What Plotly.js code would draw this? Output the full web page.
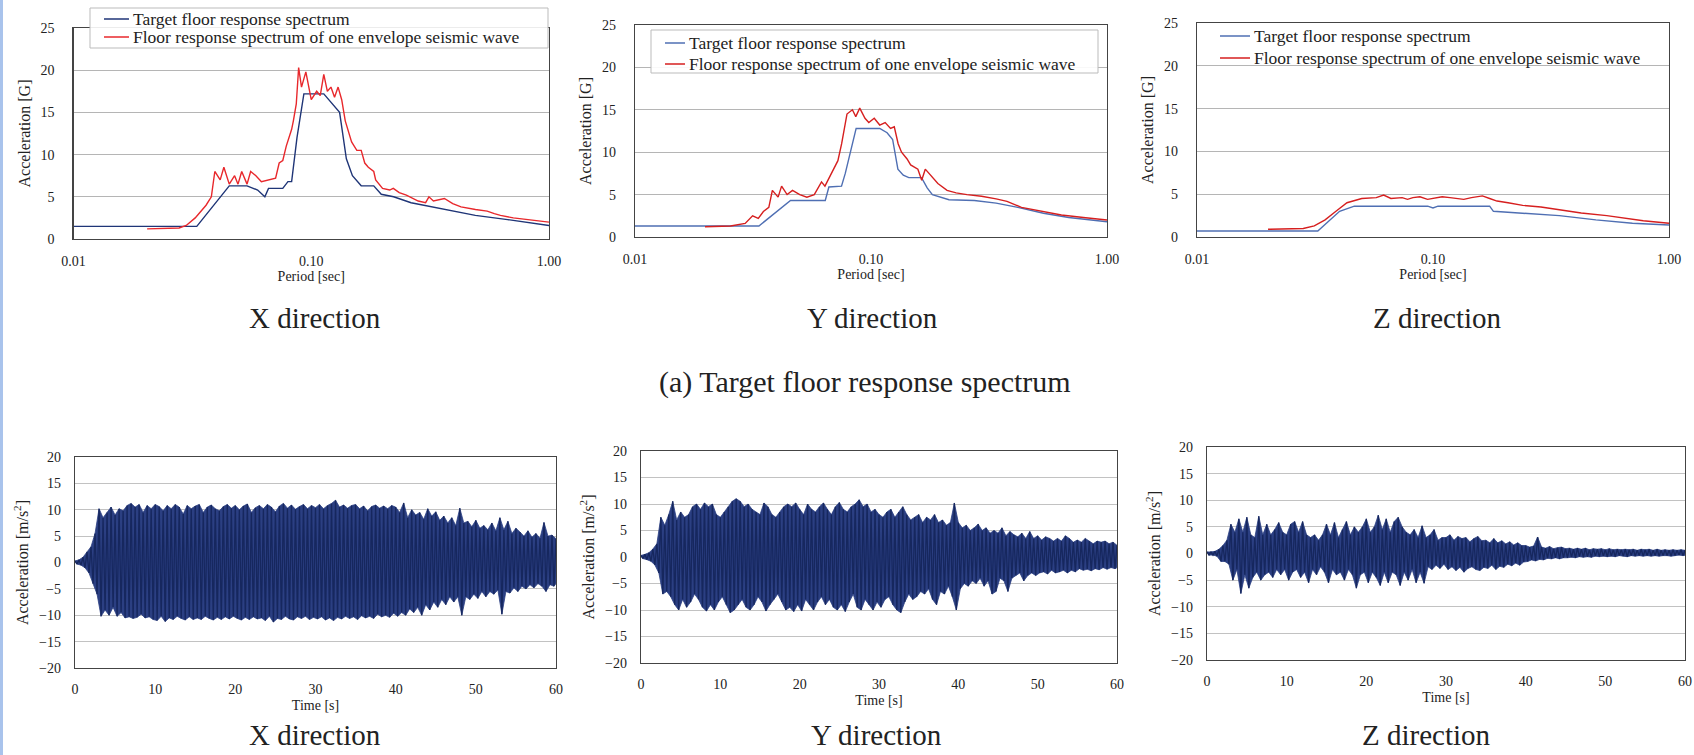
<!DOCTYPE html>
<html>
<head>
<meta charset="utf-8">
<script src="https://cdn.plot.ly/plotly-3.0.1.min.js"></script>
<style>html,body{margin:0;padding:0;background:#fff;}#chart{width:1694px;height:755px;}</style>
</head>
<body>
<div id="chart"></div>
<script>
// ---------------- DATA ----------------
// Floor response spectra: period [sec] and acceleration [G]
const xTargetPeriod = [0.01,0.033,0.0452,0.0537,0.0595,0.0638,0.0661,0.0759,0.0798,0.0827,0.0871,0.0931,0.1129,0.127,0.1316,0.1405,0.149,0.1622,0.1832,0.197,0.222,0.263,0.372,0.49,0.67,1.0];
const xTargetAcc    = [1.5,1.5,6.3,6.3,5.8,5.0,6.0,6.0,6.8,6.8,12.0,17.2,17.2,15.5,15.0,9.5,7.5,6.3,6.3,5.3,5.0,4.3,3.5,2.8,2.3,1.6];
const xWavePeriod = [0.0204,0.0278,0.0298,0.0325,0.0361,0.038,0.0393,0.0414,0.0429,0.0452,0.0476,0.0492,0.051,0.0537,0.0556,0.0585,0.0617,0.0661,0.0708,0.0733,0.0759,0.0785,0.0827,0.0841,0.0865,0.0885,0.091,0.0949,0.1,0.1054,0.1091,0.1129,0.1169,0.121,0.1253,0.1297,0.1343,0.139,0.1439,0.1478,0.1555,0.1622,0.1679,0.1738,0.1832,0.1866,0.1995,0.2138,0.2213,0.2345,0.2512,0.2818,0.3027,0.3126,0.3265,0.3631,0.3936,0.4265,0.4906,0.5495,0.5888,0.625,0.7079,0.8128,0.9016,1.0];
const xWaveAcc    = [1.2,1.3,1.6,2.5,4.0,5.0,8.0,7.0,8.5,6.5,7.5,6.5,8.0,6.5,8.0,7.5,6.8,7.0,7.2,9.0,9.3,11.0,13.0,14.0,16.0,20.3,18.0,19.8,16.5,17.5,17.0,19.5,17.5,18.0,16.8,18.0,16.5,14.0,12.5,11.5,10.5,10.5,9.0,8.5,8.0,7.0,6.0,5.8,6.0,5.5,5.2,4.5,4.3,5.0,4.5,4.8,4.2,3.8,3.5,3.3,3.0,2.8,2.5,2.3,2.2,2.0];

const yTargetPeriod = [0.01,0.0335,0.0456,0.064,0.0663,0.075,0.0778,0.082,0.0865,0.1089,0.117,0.1235,0.130,0.137,0.1446,0.1637,0.173,0.182,0.199,0.214,0.274,0.339,0.419,0.538,0.688,1.0];
const yTargetAcc    = [1.3,1.3,4.3,4.3,5.9,6.0,7.5,10.0,12.8,12.8,12.3,11.5,8.0,7.3,7.0,7.0,5.8,5.0,4.7,4.4,4.3,4.0,3.5,2.8,2.3,1.8];
const yWavePeriod = [0.0198,0.0254,0.0293,0.0315,0.0333,0.035,0.0369,0.0382,0.0404,0.0418,0.0441,0.0465,0.0499,0.0535,0.0575,0.0617,0.0638,0.0674,0.0724,0.0751,0.0791,0.0834,0.0862,0.0896,0.0943,0.0979,0.1032,0.1089,0.1148,0.121,0.1255,0.1303,0.1347,0.1422,0.1472,0.158,0.164,0.1698,0.179,0.192,0.21,0.2295,0.255,0.294,0.339,0.377,0.434,0.538,0.641,0.794,1.0];
const yWaveAcc    = [1.2,1.3,1.6,2.5,2.2,3.0,3.5,5.5,4.7,6.0,5.0,5.5,5.0,4.7,5.0,6.5,6.0,7.3,9.0,11.0,14.5,15.0,14.2,15.2,14.0,13.5,14.0,13.2,13.5,12.8,13.0,11.0,10.0,9.2,8.5,8.0,6.7,8.0,7.3,6.3,5.5,5.2,5.0,4.8,4.5,4.2,3.5,3.0,2.6,2.3,2.0];

const zTargetPeriod = [0.01,0.0325,0.0402,0.0464,0.095,0.1,0.105,0.1738,0.1803,0.240,0.343,0.490,0.700,1.0];
const zTargetAcc    = [0.7,0.7,3.0,3.6,3.6,3.4,3.6,3.6,3.0,2.8,2.5,2.0,1.6,1.4];
const zWavePeriod = [0.02,0.0282,0.0314,0.0349,0.0388,0.0432,0.0499,0.0575,0.0618,0.0663,0.074,0.078,0.0822,0.088,0.0948,0.1,0.1094,0.118,0.126,0.135,0.1455,0.153,0.162,0.1738,0.1868,0.208,0.240,0.2866,0.343,0.4246,0.545,0.652,0.778,1.0];
const zWaveAcc    = [0.9,1.0,1.3,2.0,3.0,4.0,4.5,4.6,4.9,4.5,4.6,4.4,4.6,4.7,4.4,4.5,4.7,4.6,4.5,4.4,4.6,4.7,4.8,4.5,4.2,4.0,3.7,3.5,3.2,2.8,2.5,2.2,1.9,1.6];

// Envelope seismic waves: peak values per 0.5 s window [m/s^2], t = 0 ... 60 s
const timeStep = 0.5;
const xWaveUpper = [0.3,0.5,1.0,2.0,3.0,5.5,10.2,8.5,9.5,10.5,
 9.0,10.2,9.8,10.8,11.2,10.5,11.0,9.5,10.8,10.2,
 11.0,10.6,9.8,10.8,10.2,11.0,10.5,9.2,10.8,10.2,
 10.7,11.0,9.5,10.5,10.9,10.2,9.8,10.6,11.0,10.3,
 10.8,10.0,10.7,11.1,9.5,10.4,10.8,10.2,11.0,10.5,
 9.6,10.7,11.2,10.3,10.9,10.1,10.6,11.0,10.2,10.8,
 10.4,11.0,10.2,10.8,11.2,11.8,10.5,10.9,10.3,10.8,
 11.0,10.2,10.7,9.8,10.6,10.9,10.3,10.7,10.2,10.8,
 10.5,9.5,11.3,8.5,10.0,9.0,9.5,8.2,10.2,8.8,
 9.6,8.0,8.8,7.5,8.5,7.0,10.3,7.5,7.8,6.8,
 8.0,6.5,7.0,6.2,7.5,6.0,8.5,6.2,7.8,5.5,
 6.5,5.8,5.0,6.0,4.8,5.5,4.6,7.6,5.0,5.2,
 4.5];
const xWaveLower = [-0.3,-0.5,-1.0,-2.0,-4.0,-6.0,-10.2,-9.0,-10.0,-8.5,
 -10.2,-9.5,-10.5,-10.3,-10.6,-10.4,-9.8,-10.5,-10.3,-10.8,
 -11.0,-10.2,-11.2,-10.5,-10.8,-10.2,-10.6,-10.9,-10.3,-10.8,
 -10.5,-10.8,-10.2,-10.6,-10.9,-10.4,-10.8,-10.3,-10.7,-10.2,
 -10.6,-10.9,-10.4,-10.8,-10.3,-10.7,-10.5,-11.0,-10.2,-11.3,
 -10.6,-10.8,-10.2,-10.7,-10.9,-10.3,-10.6,-10.2,-10.8,-10.4,
 -10.7,-10.3,-10.9,-10.5,-11.0,-10.4,-10.7,-10.2,-10.6,-10.3,
 -10.8,-10.1,-10.5,-10.2,-10.6,-9.8,-10.3,-10.0,-10.4,-9.6,
 -10.2,-9.5,-10.0,-8.8,-9.5,-8.5,-10.0,-8.0,-9.0,-7.5,
 -8.5,-7.0,-8.0,-6.5,-7.5,-6.5,-10.0,-6.5,-7.0,-6.0,
 -6.8,-5.5,-6.5,-5.5,-6.0,-5.2,-9.8,-5.5,-5.8,-4.8,
 -5.5,-4.5,-5.0,-4.2,-4.8,-4.0,-4.5,-5.5,-4.2,-4.5,
 -3.5];
const yWaveUpper = [0.3,0.5,0.8,1.5,2.5,7.5,6.0,8.0,10.5,7.0,
 8.5,7.5,8.0,9.5,10.0,9.0,10.2,9.5,10.0,8.0,
 7.5,8.5,9.5,10.5,11.0,10.5,9.5,10.0,9.0,8.5,
 8.0,10.2,9.5,8.0,7.5,8.5,9.5,10.0,9.5,10.2,
 9.0,8.0,10.0,9.0,8.5,9.5,10.2,9.0,8.0,9.5,
 10.3,9.0,8.5,9.5,10.0,10.8,9.5,10.0,8.5,9.0,
 8.0,7.5,8.5,9.0,7.5,8.5,9.5,8.0,7.0,7.5,
 8.0,6.5,7.5,7.0,8.0,6.5,7.0,6.0,6.5,10.2,
 6.5,5.5,6.0,5.0,5.5,6.2,5.0,5.5,4.5,5.0,
 4.5,5.5,4.0,4.8,4.2,3.8,4.5,3.5,4.8,3.5,
 4.0,3.2,3.8,3.5,3.0,3.5,3.0,4.0,3.5,2.8,
 3.2,2.8,3.5,3.0,2.5,3.0,2.8,3.0,2.5,2.8,
 2.2];
const yWaveLower = [-0.3,-0.5,-0.8,-1.5,-3.0,-7.0,-6.5,-7.5,-9.0,-10.0,
 -8.0,-9.5,-8.5,-7.0,-8.0,-9.5,-10.2,-9.0,-10.0,-8.5,
 -7.5,-9.0,-10.5,-10.0,-9.0,-8.0,-9.5,-10.0,-9.0,-7.5,
 -8.5,-10.2,-9.0,-8.0,-7.0,-8.5,-10.0,-9.5,-10.3,-9.0,
 -10.2,-8.0,-9.0,-10.0,-8.5,-7.5,-9.0,-8.0,-9.5,-10.0,
 -9.0,-10.3,-8.5,-7.0,-9.5,-10.0,-8.0,-9.0,-10.0,-8.5,
 -9.5,-8.0,-7.5,-9.0,-10.0,-10.5,-8.5,-7.0,-8.0,-7.5,
 -6.5,-7.0,-6.0,-8.0,-9.0,-6.5,-7.0,-5.5,-7.5,-10.0,
 -6.0,-5.0,-5.5,-4.5,-5.0,-4.0,-5.5,-4.5,-7.0,-6.5,
 -4.0,-4.5,-6.5,-4.0,-3.5,-3.0,-4.5,-3.5,-3.0,-3.5,
 -3.0,-2.8,-3.2,-2.5,-3.0,-2.8,-2.5,-3.0,-2.5,-2.8,
 -2.2,-2.5,-2.3,-2.6,-2.2,-2.4,-2.0,-2.3,-2.0,-2.2,
 -1.8];
const zWaveUpper = [0.3,0.3,0.4,0.8,1.5,2.5,5.5,4.0,6.5,4.0,
 6.8,3.5,3.0,7.0,3.5,5.5,3.5,4.5,5.8,4.0,
 3.5,5.5,6.0,4.0,6.0,3.5,3.0,3.5,2.5,3.5,
 5.5,3.5,5.8,3.0,4.5,6.0,3.5,5.0,4.0,5.0,
 6.5,4.0,5.0,7.2,4.5,6.5,4.0,6.0,6.8,5.0,
 4.0,3.5,4.5,3.0,5.2,3.0,3.5,4.5,2.5,3.0,
 3.0,3.5,2.5,3.2,2.8,3.0,2.2,2.8,3.2,2.4,
 2.5,2.0,2.8,2.0,2.4,1.8,2.2,1.6,2.0,1.5,
 1.5,1.2,1.4,3.1,1.2,1.0,1.3,0.9,1.1,1.2,
 0.9,1.0,0.8,1.0,0.8,1.0,0.7,0.9,0.8,0.9,
 0.7,0.9,0.7,0.8,0.7,0.8,0.7,0.8,0.6,0.8,
 0.7,0.8,0.6,0.8,0.6,0.7,0.6,0.7,0.6,0.7,
 0.6];
const zWaveLower = [-0.3,-0.3,-0.5,-1.5,-1.5,-2.0,-5.0,-3.0,-7.5,-4.0,
 -6.5,-4.5,-3.5,-5.0,-4.0,-3.5,-4.5,-3.0,-4.0,-3.0,
 -5.0,-3.5,-3.0,-4.5,-3.5,-5.5,-3.0,-4.0,-2.5,-3.5,
 -5.5,-3.0,-4.0,-3.5,-5.0,-3.0,-4.0,-6.5,-4.0,-3.5,
 -5.5,-3.5,-4.5,-6.0,-3.5,-5.5,-3.5,-4.0,-6.0,-3.5,
 -5.0,-3.0,-5.5,-3.5,-5.6,-2.5,-3.0,-2.2,-2.8,-2.0,
 -3.0,-2.5,-3.2,-2.6,-3.5,-2.8,-2.5,-3.0,-3.2,-2.6,
 -2.8,-2.2,-3.0,-2.4,-2.6,-2.0,-2.3,-1.8,-2.2,-1.6,
 -1.5,-1.2,-1.4,-1.1,-1.2,-0.9,-1.0,-0.8,-1.0,-0.8,
 -0.8,-0.7,-0.8,-0.6,-0.7,-0.6,-0.7,-0.5,-0.6,-0.5,
 -0.6,-0.5,-0.6,-0.4,-0.5,-0.6,-0.4,-0.5,-0.4,-0.5,
 -0.4,-0.5,-0.4,-0.5,-0.4,-0.4,-0.5,-0.4,-0.3,-0.4,
 -0.3];

const periodTicks = [0.01, 0.1, 1];
const periodTickText = ['0.01', '0.10', '1.00'];
const legendNames = ['Target floor response spectrum', 'Floor response spectrum of one envelope seismic wave'];
const directionNames = ['X direction', 'Y direction', 'Z direction'];
const panelCaption = '(a) Target floor response spectrum';

// ---------------- HELPERS ----------------
const W = 1694, H = 755;
const px = v => v / W;          // pixel x -> paper
const py = v => 1 - v / H;      // pixel y -> paper
const FONT = 'Liberation Serif, Times New Roman, serif';

const blueDark = '#1f3577', blueLight = '#4f6fb3', red1 = '#e8282c', red2 = '#d61f1f', waveBlue = '#16275e', waveFill = '#2b3f82';

const traces = [
  {x: xTargetPeriod, y: xTargetAcc, xaxis: 'x', yaxis: 'y', mode: 'lines', line: {color: blueDark, width: 1.4}, name: legendNames[0], showlegend: false},
  {x: xWavePeriod, y: xWaveAcc, xaxis: 'x', yaxis: 'y', mode: 'lines', line: {color: red1, width: 1.4}, name: legendNames[1], showlegend: false},
  {x: yTargetPeriod, y: yTargetAcc, xaxis: 'x2', yaxis: 'y2', mode: 'lines', line: {color: blueLight, width: 1.4}, name: legendNames[0], showlegend: false},
  {x: yWavePeriod, y: yWaveAcc, xaxis: 'x2', yaxis: 'y2', mode: 'lines', line: {color: red2, width: 1.4}, name: legendNames[1], showlegend: false},
  {x: zTargetPeriod, y: zTargetAcc, xaxis: 'x3', yaxis: 'y3', mode: 'lines', line: {color: blueLight, width: 1.4}, name: legendNames[0], showlegend: false},
  {x: zWavePeriod, y: zWaveAcc, xaxis: 'x3', yaxis: 'y3', mode: 'lines', line: {color: red2, width: 1.4}, name: legendNames[1], showlegend: false}
];
[[xWaveUpper, xWaveLower, 'x4', 'y4'], [yWaveUpper, yWaveLower, 'x5', 'y5'], [zWaveUpper, zWaveLower, 'x6', 'y6']].forEach(([u, l, xa, ya]) => {
  const tu = u.map((_, i) => i * timeStep);
  const tl = l.map((_, i) => i * timeStep + timeStep / 2);
  // upper peaks, then lower peaks filled to the upper ones: the dense band of the record
  traces.push({x: tu, y: u, xaxis: xa, yaxis: ya, mode: 'lines', line: {color: waveFill, width: 0.8, simplify: false}, showlegend: false, name: 'Acceleration'});
  traces.push({x: tl, y: l, xaxis: xa, yaxis: ya, mode: 'lines', fill: 'tonexty', fillcolor: waveFill, line: {color: waveFill, width: 0.8, simplify: false}, showlegend: false, name: 'Acceleration'});
  // peak-to-peak strokes
  const zt = [], za = [];
  u.forEach((v, i) => { zt.push(tu[i]); za.push(v); if (i < l.length) { zt.push(tl[i]); za.push(l[i]); } });
  traces.push({x: zt, y: za, xaxis: xa, yaxis: ya, mode: 'lines', line: {color: waveBlue, width: 1.3, simplify: false}, showlegend: false, name: 'Acceleration'});
});

const tickFont = {family: FONT, size: 14, color: '#222'};
const titleFont = {family: FONT, size: 14, color: '#222'};
function specX(dom) {
  return {type: 'log', range: [-2, 0], domain: dom, tickvals: periodTicks, ticktext: periodTickText, showgrid: false,
    zeroline: false, showline: true, mirror: true, linecolor: '#444', linewidth: 1.2, ticks: '', tickfont: tickFont,
    ticklabelstandoff: 9, title: {text: 'Period [sec]', font: titleFont, standoff: 2}};
}
function specY(dom, anchor) {
  return {range: [0, 25], dtick: 5, domain: dom, anchor: anchor, showgrid: true, gridcolor: '#b5b5b5', gridwidth: 1,
    zeroline: false, showline: true, mirror: true, linecolor: '#444', linewidth: 1.2, ticks: '', tickfont: tickFont,
    ticklabelstandoff: 15, title: {text: 'Acceleration [G]', font: {family: FONT, size: 16, color: '#222'}, standoff: 6}};
}
function timeX(dom) {
  return {range: [0, 60], dtick: 10, domain: dom, showgrid: false, zeroline: false, showline: true, mirror: true,
    linecolor: '#444', linewidth: 1.2, ticks: '', tickfont: tickFont, ticklabelstandoff: 8,
    title: {text: 'Time [s]', font: titleFont, standoff: 4}};
}
function timeY(dom, anchor) {
  return {range: [-20, 20], dtick: 5, domain: dom, anchor: anchor, showgrid: true, gridcolor: '#c2c2c2', gridwidth: 1,
    zeroline: false, showline: true, mirror: true, linecolor: '#444', linewidth: 1.2, ticks: '', tickfont: tickFont,
    ticklabelstandoff: 10, title: {text: 'Acceleration [m/s<sup>2</sup>]', font: {family: FONT, size: 16, color: '#222'}, standoff: 6}};
}

const layout = {
  width: W, height: H, margin: {l: 0, r: 0, t: 0, b: 0}, paper_bgcolor: '#fff', plot_bgcolor: '#fff',
  font: {family: FONT, color: '#222'}, showlegend: false,
  xaxis:  Object.assign(specX([px(73.5), px(549)]), {anchor: 'y'}),
  yaxis:  specY([py(239), py(28)], 'x'),
  xaxis2: Object.assign(specX([px(635), px(1107)]), {anchor: 'y2'}),
  yaxis2: specY([py(237), py(25)], 'x2'),
  xaxis3: Object.assign(specX([px(1197), px(1669)]), {anchor: 'y3'}),
  yaxis3: specY([py(237), py(23)], 'x3'),
  xaxis4: Object.assign(timeX([px(75), px(556)]), {anchor: 'y4'}),
  yaxis4: timeY([py(668), py(457)], 'x4'),
  xaxis5: Object.assign(timeX([px(641), px(1117)]), {anchor: 'y5'}),
  yaxis5: timeY([py(663), py(451)], 'x5'),
  xaxis6: Object.assign(timeX([px(1207), px(1685)]), {anchor: 'y6'}),
  yaxis6: timeY([py(660), py(447)], 'x6'),
  shapes: [], annotations: []
};

// left blue stripe of the page
layout.shapes.push({type: 'rect', xref: 'paper', yref: 'paper', x0: 0, x1: px(3), y0: 0, y1: 1, line: {width: 0}, fillcolor: '#a9c3ec'});

// manual legends (box, sample line, text)
const legends = [
  {box: [90, 548, 8, 48], sx: [104, 129], tx: 131, rows: [19, 37], colors: [blueDark, red1], border: '#bbbbbb'},
  {box: [651, 1098, 30, 73], sx: [665, 685], tx: 687, rows: [43, 64], colors: [blueLight, red2], border: '#bbbbbb'},
  {box: null, sx: [1220, 1250], tx: 1252, rows: [36, 58], colors: [blueLight, red2], border: null}
];
legends.forEach(L => {
  if (L.box) layout.shapes.push({type: 'rect', xref: 'paper', yref: 'paper', x0: px(L.box[0]), x1: px(L.box[1]), y0: py(L.box[3]), y1: py(L.box[2]), line: {color: L.border, width: 1}, fillcolor: 'rgba(255,255,255,0.9)', layer: 'above'});
  L.rows.forEach((ry, i) => {
    layout.shapes.push({type: 'line', xref: 'paper', yref: 'paper', x0: px(L.sx[0]), x1: px(L.sx[1]), y0: py(ry), y1: py(ry), line: {color: L.colors[i], width: 1.5}, layer: 'above'});
    layout.annotations.push({xref: 'paper', yref: 'paper', x: px(L.tx), y: py(ry), xanchor: 'left', yanchor: 'middle', showarrow: false, text: legendNames[i], font: {family: FONT, size: 17.5, color: '#222'}});
  });
});

// direction captions
[[315, 318], [873, 318], [1437, 318], [315, 735], [876, 735], [1426, 735]].forEach((p, i) => {
  layout.annotations.push({xref: 'paper', yref: 'paper', x: px(p[0]), y: py(p[1]), xanchor: 'center', yanchor: 'middle', showarrow: false, text: directionNames[i % 3], font: {family: FONT, size: 29, color: '#222'}});
});
layout.annotations.push({xref: 'paper', yref: 'paper', x: px(865), y: py(382), xanchor: 'center', yanchor: 'middle', showarrow: false, text: panelCaption, font: {family: FONT, size: 30, color: '#222'}});

Plotly.newPlot('chart', traces, layout, {staticPlot: true, displayModeBar: false});
</script>
</body>
</html>
